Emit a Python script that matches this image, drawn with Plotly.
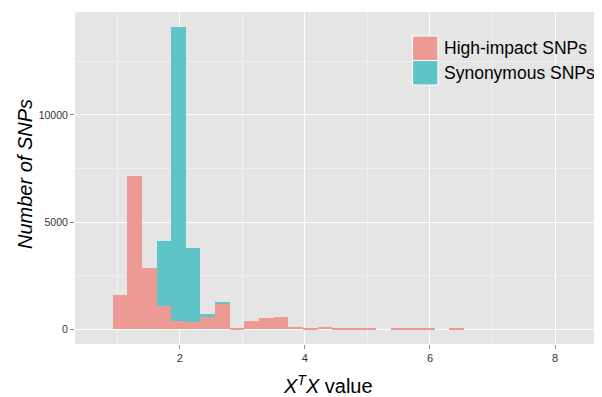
import plotly.graph_objects as go

# ---- data ----
bin_start = 0.928
bin_width = 0.234
high_impact = [1585, 7160, 2860, 1070, 405, 325, 560, 1230, 65, 405, 510, 580,
               110, 30, 125, 65, 30, 30, 0, 30, 30, 30, 0, 30]
synonymous = [0, 0, 0, 3060, 13680, 3465, 170, 60, 0, 0, 0, 0,
              0, 0, 0, 0, 0, 0, 0, 0, 0, 0, 0, 0]
series_names = ["High-impact SNPs", "Synonymous SNPs"]
series_colors = ["#EE9A94", "#5FC4C7"]
y_ticks = [0, 5000, 10000]
x_ticks = [2, 4, 6, 8]

centers = [bin_start + (i + 0.5) * bin_width for i in range(len(high_impact))]

FONT = "Liberation Sans, Arial, Helvetica, sans-serif"

fig = go.Figure()
for name, vals, col in zip(series_names, [high_impact, synonymous], series_colors):
    fig.add_trace(go.Bar(x=centers, y=vals, width=bin_width, name=name,
                         marker=dict(color=col, line=dict(width=0)),
                         showlegend=False))

# page body has an 8px margin, so the figure is offset by 8px
OFF = 8
W, H = 602 - OFF, 397 - OFF
L, R, T, B = 75 - OFF, 0, 12 - OFF, 397 - 344
pw, ph = W - L - R, H - T - B

def px(x):  # reference-window pixel -> paper
    return (x - OFF - L) / pw

def py(y):
    return (H - B - (y - OFF)) / ph

fig.update_layout(
    width=W, height=H,
    margin=dict(l=L, r=R, t=T, b=B, autoexpand=False),
    paper_bgcolor="white",
    plot_bgcolor="#E5E5E5",
    barmode="stack",
    bargap=0,
    font=dict(family=FONT, color="#333333"),
    xaxis=dict(range=[0.326, 8.75], tickvals=x_ticks, ticks="outside", ticklen=4,
               tickcolor="#8C8C8C", tickwidth=1, showline=False, zeroline=False,
               gridcolor="white", gridwidth=1.3,
               tickfont=dict(size=11, color="#333333", family=FONT),
               minor=dict(dtick=1, tick0=1, showgrid=True, gridcolor="#F0F0F0", gridwidth=0.6, ticks="")),
    yaxis=dict(range=[-680, 14800], tickvals=y_ticks, tickformat="d", ticks="outside", ticklen=4,
               tickcolor="#8C8C8C", tickwidth=1, showline=False, zeroline=False,
               gridcolor="white", gridwidth=1.3,
               tickfont=dict(size=10.5, color="#333333", family=FONT),
               minor=dict(dtick=2500, tick0=2500, showgrid=True, gridcolor="#F0F0F0", gridwidth=0.6, ticks="")),
)

# axis titles
fig.add_annotation(x=px(328), y=py(384), xref="paper", yref="paper", showarrow=False,
                   text="<i>X<sup>T</sup>X</i> value", font=dict(size=20, color="black", family=FONT),
                   xanchor="center", yanchor="middle")
fig.add_annotation(x=px(25), y=py(174), xref="paper", yref="paper", showarrow=False,
                   text="<i>Number of SNPs</i>", textangle=-90,
                   font=dict(size=20, color="black", family=FONT),
                   xanchor="center", yanchor="middle")

# legend (keys as shapes, labels as text)
key_rows = [(36, 60.5, 48), (60.5, 85, 72.5)]
for (y0, y1, yc), name, col in zip(key_rows, series_names, series_colors):
    fig.add_shape(type="rect", xref="paper", yref="paper",
                  x0=px(412.5), x1=px(438), y0=py(y1), y1=py(y0),
                  fillcolor=col, line=dict(color="white", width=1.2))
    fig.add_annotation(x=px(442), y=py(yc), xref="paper", yref="paper", showarrow=False,
                       text=name, font=dict(size=17.5, color="black", family=FONT),
                       xanchor="left", yanchor="middle")

fig.write_html("out.html")
